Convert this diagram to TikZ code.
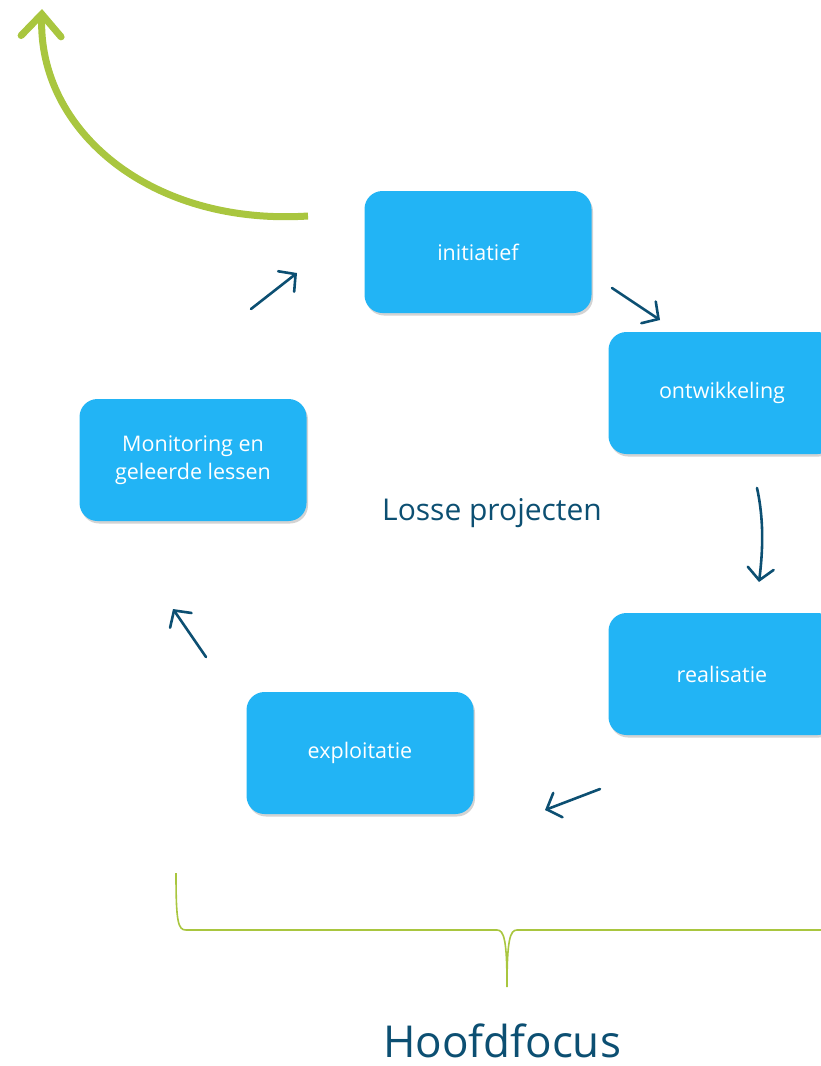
\documentclass[tikz,border=0pt]{standalone}
\usepackage{fontspec}
\setmainfont{Open Sans}
\usetikzlibrary{arrows.meta,shadows}
\definecolor{boxblue}{HTML}{22B4F5}
\definecolor{darkblue}{HTML}{0C4F72}
\definecolor{lime}{HTML}{A9C63F}
\tikzset{
  phase/.style={rounded corners=18pt, fill=boxblue, minimum width=227pt, minimum height=122pt,
    text=white, font=\fontsize{21.5}{28}\selectfont, align=center,
    drop shadow={opacity=0.35, shadow xshift=1.5pt, shadow yshift=-2.5pt}},
  flow/.style={draw=darkblue, line width=2.6pt, line cap=round,
    -{Straight Barb[length=12pt,width=26pt,line cap=round]}},
  bigarrow/.style={draw=lime, line width=7pt,
    -{Straight Barb[length=22pt,width=40pt,line cap=round]}},
  brace/.style={draw=lime, line width=1.6pt}
}
\begin{document}
\begin{tikzpicture}[x=1pt,y=-1pt]
\useasboundingbox (0,0) rectangle (821,1066);
\clip (0,0) rectangle (821,1066);
\node[phase] (init) at (478,252) {initiatief};
\node[phase] (ontw) at (722,393) {ontwikkeling};
\node[phase] (real) at (722,674) {realisatie};
\node[phase] (expl) at (360,753) {exploitatie};
\node[phase] (mon) at (193,460) {Monitoring en\\geleerde lessen};
\node[text=darkblue, font=\fontsize{30}{34}\selectfont] (losse) at (492,513) {Losse projecten};
\node[text=darkblue, font=\fontsize{44}{50}\selectfont, inner sep=0pt] (hoofd) at (502,1041) {Hoofdfocus};
% flow arrows
\coordinate (a1s) at (251,309); \coordinate (a1e) at (297,273);
\coordinate (a2s) at (612,288); \coordinate (a2e) at (660,320);
\coordinate (a3s) at (757,488); \coordinate (a3e) at (759,582);
\coordinate (a4s) at (600,789); \coordinate (a4e) at (545,810);
\coordinate (a5s) at (206,657); \coordinate (a5e) at (173,609);
\draw[flow] (a1s) -- (a1e);
\draw[flow] (a2s) -- (a2e);
\draw[flow] (a3s) .. controls (764,520) and (763,550) .. (a3e);
\draw[flow] (a4s) -- (a4e);
\draw[flow] (a5s) -- (a5e);
% green arrow
\coordinate (gs) at (308,216); \coordinate (ge) at (42,9);
\draw[bigarrow] (gs) .. controls (150,226) and (38,130) .. (ge);
% brace
\coordinate (bl) at (176,873); \coordinate (bt) at (507,987); \coordinate (br) at (830,930);
\draw[brace] (bl) .. controls (176,922) and (178,930) .. (186,930) -- (497,930)
  .. controls (504,930) and (507,940) .. (bt)
  .. controls (507,940) and (510,930) .. (517,930) -- (br);
\end{tikzpicture}
\end{document}
